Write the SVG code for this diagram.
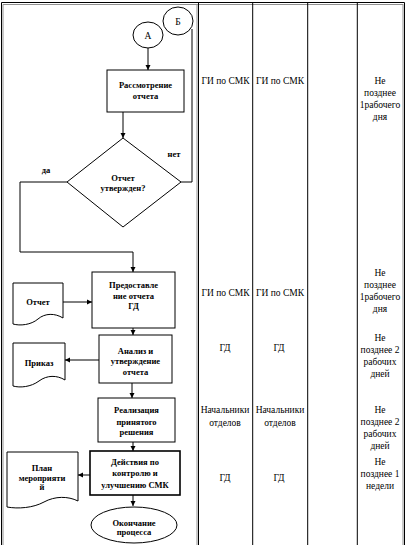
<svg xmlns="http://www.w3.org/2000/svg" width="407" height="545" viewBox="0 0 407 545">
<defs>
<marker id="ar" markerWidth="6" markerHeight="6" refX="5" refY="3" orient="auto" markerUnits="userSpaceOnUse">
<path d="M0,0.5 L5,3 L0,5.5 Z" fill="#000"/>
</marker>
<style>
.sh{fill:#fff;stroke:#000;stroke-width:1}
.thick{stroke-width:1.6}
.ft{font-family:"Liberation Serif","Times New Roman",serif;font-size:8.5px;font-weight:bold;text-anchor:middle;fill:#000}
.ct{font-family:"Liberation Serif","Times New Roman",serif;font-size:9.5px;text-anchor:middle;fill:#000}
.cn{fill:none;stroke:#000;stroke-width:1}
.ca{fill:none;stroke:#000;stroke-width:1;marker-end:url(#ar)}
</style>
</defs>
<rect width="407" height="545" fill="#fff"/>
<g id="frame">
<path d="M1.5,545 V2.5 H404.5 V545" fill="none" stroke="#000" stroke-width="1"/>
<path d="M3,545 V4.5 H403" fill="none" stroke="#909090" stroke-width="1"/>
<line x1="403" y1="4" x2="403" y2="545" stroke="#909090" stroke-width="1"/>
<line x1="197" y1="4" x2="197" y2="545" stroke="#909090" stroke-width="1"/>
<line x1="198.5" y1="3" x2="198.5" y2="545" stroke="#000" stroke-width="1"/>
<line x1="252.7" y1="3" x2="252.7" y2="545" stroke="#000" stroke-width="1"/>
<line x1="307.7" y1="3" x2="307.7" y2="545" stroke="#000" stroke-width="1"/>
<line x1="357.3" y1="3" x2="357.3" y2="545" stroke="#000" stroke-width="1"/>
</g>
<g id="connectors">
<path class="ca" d="M148,48 V70"/>
<path class="ca" d="M123,112 V138"/>
<path class="cn" d="M181,182 H192 V29"/>
<path class="ca" d="M67,182 H20 V252 H133 V272"/>
<path class="ca" d="M63,302 H92"/>
<path class="ca" d="M133,328 V335"/>
<path class="ca" d="M99,360 H65"/>
<path class="ca" d="M132,383 V398"/>
<path class="ca" d="M133,442 V451"/>
<path class="ca" d="M90,475 H78"/>
<path class="ca" d="M133,495 V506"/>
</g>
<g id="connA"><ellipse class="sh" cx="148" cy="35" rx="15" ry="13"/><text class="ct" x="148" y="39">А</text></g>
<g id="connB"><ellipse class="sh" cx="178" cy="21" rx="15" ry="14"/><text class="ct" x="178" y="25">Б</text></g>
<g id="n1"><rect class="sh" x="107" y="70" width="77" height="42"/>
<text class="ft" x="145.5" y="88">Рассмотрение</text><text class="ft" x="145.5" y="99">отчета</text></g>
<g id="n2"><path class="sh" d="M123,138 L181,182 L123,227 L67,182 Z"/>
<text class="ft" x="123" y="181">Отчет</text><text class="ft" x="123" y="191">утвержден?</text></g>
<text class="ft" x="174" y="157">нет</text>
<text class="ft" x="46" y="173">да</text>
<g id="n3"><rect class="sh" x="92" y="272" width="83" height="56"/>
<text class="ft" x="133.5" y="288">Предоставле</text><text class="ft" x="133.5" y="299">ние отчета</text><text class="ft" x="133.5" y="309">ГД</text></g>
<g id="d1"><path class="sh" d="M13,283 H63 V318 C55,313 45,313 38,319 C31,325 20,326 13,324 Z"/>
<text class="ft" x="38" y="305">Отчет</text></g>
<g id="n4"><rect class="sh" x="99" y="335" width="73" height="48"/>
<text class="ft" x="135.5" y="354">Анализ и</text><text class="ft" x="135.5" y="364">утверждение</text><text class="ft" x="135.5" y="375">отчета</text></g>
<g id="d2"><path class="sh" d="M13,343 H65 V380 C57,375 47,375 39,381 C31,387 20,388 13,386 Z"/>
<text class="ft" x="39" y="366">Приказ</text></g>
<g id="n5"><rect class="sh" x="98" y="398" width="77" height="44"/>
<text class="ft" x="136.5" y="413">Реализация</text><text class="ft" x="136.5" y="425">принятого</text><text class="ft" x="136.5" y="435">решения</text></g>
<g id="n6"><rect class="sh thick" x="90" y="451" width="90" height="44"/>
<text class="ft" x="135" y="465">Действия по</text><text class="ft" x="135" y="476">контролю и</text><text class="ft" x="135" y="488">улучшению СМК</text></g>
<g id="d3"><path class="sh" d="M7,452 H78 V501 C68,496 55,496 44,502 C33,508 18,509 7,507 Z"/>
<text class="ft" x="42" y="471">План</text><text class="ft" x="42" y="481">мероприяти</text><text class="ft" x="42" y="490">й</text></g>
<g id="n7"><ellipse class="sh" cx="134" cy="525" rx="43" ry="18"/>
<text class="ft" x="134" y="526">Окончание</text><text class="ft" x="134" y="535">процесса</text></g>
<g id="table">
<text class="ct" x="225.5" y="84">ГИ по СМК</text><text class="ct" x="280" y="84">ГИ по СМК</text>
<text class="ct" x="380" y="84">Не</text><text class="ct" x="380" y="96">позднее</text><text class="ct" x="380" y="108">1рабочего</text><text class="ct" x="380" y="120">дня</text>
<text class="ct" x="225.5" y="296">ГИ по СМК</text><text class="ct" x="280" y="296">ГИ по СМК</text>
<text class="ct" x="380" y="276">Не</text><text class="ct" x="380" y="288">позднее</text><text class="ct" x="380" y="300">1рабочего</text><text class="ct" x="380" y="312">дня</text>
<text class="ct" x="225" y="351">ГД</text><text class="ct" x="279" y="351">ГД</text>
<text class="ct" x="380" y="341">Не</text><text class="ct" x="380" y="353">позднее 2</text><text class="ct" x="380" y="365">рабочих</text><text class="ct" x="380" y="377">дней</text>
<text class="ct" x="225" y="413">Начальники</text><text class="ct" x="225" y="426">отделов</text>
<text class="ct" x="280" y="413">Начальники</text><text class="ct" x="280" y="426">отделов</text>
<text class="ct" x="380" y="413">Не</text><text class="ct" x="380" y="425">позднее 2</text><text class="ct" x="380" y="437">рабочих</text><text class="ct" x="380" y="449">дней</text>
<text class="ct" x="225" y="481">ГД</text><text class="ct" x="279" y="481">ГД</text>
<text class="ct" x="380" y="465">Не</text><text class="ct" x="380" y="477">позднее 1</text><text class="ct" x="380" y="489">недели</text>
</g>
</svg>
